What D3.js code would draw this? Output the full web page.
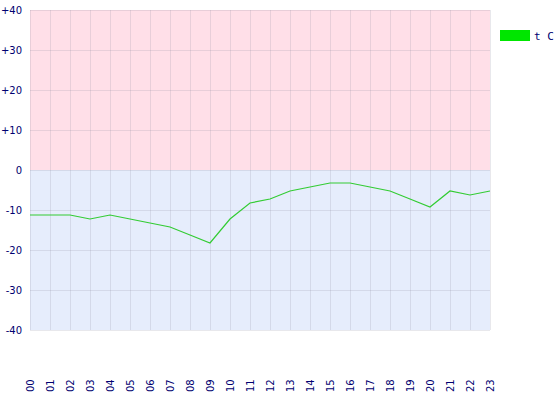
<!DOCTYPE html>
<html><head><meta charset="utf-8">
<script src="https://cdn.jsdelivr.net/npm/d3@7"></script>
<style>body{margin:0;background:#fff}svg{display:block}</style>
</head><body>
<svg id="c" width="560" height="400"></svg>
<script>
const hours = ["00","01","02","03","04","05","06","07","08","09","10","11","12","13","14","15","16","17","18","19","20","21","22","23"];
const temps = [-11,-11,-11,-12,-11,-12,-13,-14,-16,-18,-12,-8,-7,-5,-4,-3,-3,-4,-5,-7,-9,-5,-6,-5];
const yTicks = [40,30,20,10,0,-10,-20,-30,-40];
const seriesName = "t C";

const svg = d3.select("#c");
const x = d3.scalePoint().domain(hours).range([30,490]);
const y = d3.scaleLinear().domain([-40,40]).range([330,10]);
const navy = "#000070";

svg.append("rect").attr("x",30).attr("y",y(40)).attr("width",460).attr("height",y(0)-y(40)).attr("fill","#ffdfe8");
svg.append("rect").attr("x",30).attr("y",y(0)).attr("width",460).attr("height",y(-40)-y(0)).attr("fill","#e6edfc");

const g = svg.append("g");
g.selectAll("line.v").data(hours).join("line")
  .attr("x1",d=>Math.round(x(d))+0.5).attr("x2",d=>Math.round(x(d))+0.5)
  .attr("y1",y(40)).attr("y2",y(-40)).attr("stroke","rgba(140,140,160,0.2)");
g.selectAll("line.h").data(yTicks).join("line")
  .attr("x1",30).attr("x2",490)
  .attr("y1",d=>y(d)+0.5).attr("y2",d=>y(d)+0.5).attr("stroke","rgba(140,140,160,0.2)");

svg.selectAll("text.y").data(yTicks).join("text")
  .attr("x",22).attr("y",d=>y(d)+4).attr("text-anchor","end")
  .attr("font-family","DejaVu Sans").attr("font-size",10).attr("fill",navy)
  .text(d=>d>0?"+"+d:String(d));

svg.selectAll("text.x").data(hours).join("text")
  .attr("transform",d=>`translate(${x(d)+4},392) rotate(-90)`)
  .attr("font-family","DejaVu Sans").attr("font-size",10).attr("fill",navy)
  .text(d=>d);

const line = d3.line().x((d,i)=>x(hours[i])).y(d=>y(d));
svg.append("path").datum(temps).attr("d",line)
  .attr("transform","translate(0,1)")
  .attr("fill","none").attr("stroke","#33cc33").attr("stroke-width",1.2);

svg.append("rect").attr("x",500).attr("y",30).attr("width",30).attr("height",11).attr("fill","#00e600");
svg.append("text").attr("x",534).attr("y",40).attr("font-family","DejaVu Sans Mono").attr("font-size",11).attr("fill",navy).text(seriesName);
</script>
</body></html>
